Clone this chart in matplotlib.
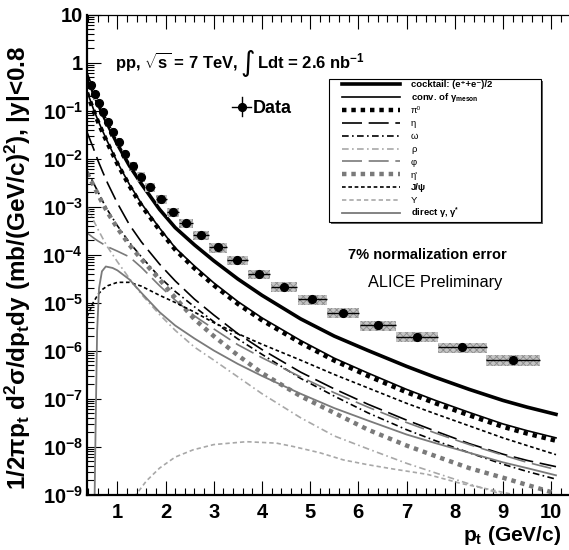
import numpy as np
import matplotlib
matplotlib.use("Agg")
import matplotlib.pyplot as plt
from matplotlib.patches import Rectangle
from matplotlib.lines import Line2D
from matplotlib.ticker import MultipleLocator, FixedLocator, FuncFormatter, NullFormatter

plt.rcParams["font.family"] = ["Liberation Sans", "DejaVu Sans"]
plt.rcParams["font.weight"] = "bold"
plt.rcParams["mathtext.fontset"] = "custom"
plt.rcParams["mathtext.rm"] = "Liberation Sans:bold"
plt.rcParams["mathtext.bf"] = "Liberation Sans:bold"
plt.rcParams["mathtext.it"] = "Liberation Sans:bold:italic"
plt.rcParams["mathtext.sf"] = "Liberation Sans"
plt.rcParams["mathtext.default"] = "rm"
plt.rcParams["hatch.linewidth"] = 0.6

# measured spectrum (GeV/c, mb/(GeV/c)^2)
data_pt = [0.45, 0.53, 0.61, 0.70, 0.80, 0.91, 1.03, 1.16, 1.32, 1.49, 1.68, 1.91, 2.15,
           2.42, 2.74, 3.09, 3.49, 3.94, 4.46, 5.04, 5.68, 6.41, 7.22, 8.16, 9.21]
data_dpt = [0.035, 0.04, 0.04, 0.045, 0.05, 0.055, 0.06, 0.07, 0.08, 0.09, 0.10, 0.115, 0.13,
            0.15, 0.165, 0.185, 0.21, 0.235, 0.27, 0.30, 0.34, 0.38, 0.43, 0.50, 0.56]
data_y = [0.34, 0.217, 0.143, 0.093, 0.058, 0.036, 0.022, 0.0124, 0.0070, 0.0042, 0.00255,
          1.43e-3, 7.6e-4, 4.5e-4, 2.55e-4, 1.41e-4, 7.7e-5, 3.9e-5, 2.14e-5, 1.16e-5,
          6.1e-6, 3.4e-6, 1.94e-6, 1.17e-6, 6.3e-7]
data_sys = [0.22, 0.22, 0.22, 0.22, 0.22, 0.22, 0.22, 0.22, 0.22, 0.22, 0.22, 0.22, 0.22,
            0.22, 0.22, 0.22, 0.22, 0.22, 0.22, 0.23, 0.23, 0.24, 0.24, 0.25, 0.25]

# cocktail components, log10 of the yield on a common pt grid
pt_grid = [0.37, 0.5, 0.6, 0.7, 0.8, 1.0, 1.25, 1.5, 1.875, 2.2, 2.6, 3.0, 3.5, 4.0,
           4.8, 5.5, 6.2, 7.0, 7.6, 8.3, 9.0, 9.5, 10.1]
cocktail_log = [-0.27, -0.62, -0.86, -1.08, -1.29, -1.70, -2.15, -2.53, -3.06, -3.44, -3.80,
                -4.13, -4.51, -4.85, -5.34, -5.70, -6.00, -6.33, -6.56, -6.81, -7.04, -7.18, -7.33]
conv_log = [-0.60, -0.96, -1.21, -1.44, -1.66, -2.08, -2.54, -2.94, -3.45, -3.86, -4.24,
            -4.59, -4.98, -5.32, -5.79, -6.16, -6.47, -6.81, -7.04, -7.29, -7.53, -7.67, -7.82]
pi0_log = [-0.63, -0.99, -1.24, -1.47, -1.69, -2.11, -2.57, -2.98, -3.49, -3.90, -4.29,
           -4.64, -5.03, -5.37, -5.84, -6.21, -6.53, -6.87, -7.10, -7.35, -7.59, -7.73, -7.88]
eta_log = [-1.45, -1.78, -2.05, -2.29, -2.52, -2.93, -3.38, -3.74, -4.20, -4.55, -4.93,
           -5.26, -5.65, -5.98, -6.45, -6.80, -7.12, -7.45, -7.68, -7.94, -8.16, -8.29, -8.42]
omega_log = [-2.25, -2.50, -2.70, -2.90, -3.08, -3.40, -3.75, -4.05, -4.47, -4.77, -5.09,
             -5.40, -5.76, -6.08, -6.58, -6.95, -7.30, -7.65, -7.88, -8.13, -8.37, -8.52, -8.68]
rho_log = [-3.00, -3.28, -3.48, -3.67, -3.85, -4.15, -4.50, -4.83, -5.25, -5.58, -5.93,
           -6.20, -6.55, -6.90, -7.40, -7.78, -8.05, -8.35, -8.55, -8.78, -9.00, -9.15, -9.30]
phi_log = [-3.55, -3.65, -3.72, -3.78, -3.84, -3.93, -4.05, -4.27, -4.65, -4.95, -5.28,
           -5.55, -5.88, -6.15, -6.55, -6.88, -7.18, -7.50, -7.72, -7.96, -8.18, -8.33, -8.48]
etap_log = [-2.30, -2.55, -2.75, -2.95, -3.13, -3.45, -3.80, -4.10, -4.52, -4.90, -5.35,
            -5.70, -6.10, -6.47, -6.95, -7.30, -7.65, -7.98, -8.20, -8.45, -8.65, -8.80, -8.98]
jpsi_log = [-5.30, -5.00, -4.83, -4.72, -4.65, -4.58, -4.58, -4.66, -4.85, -5.00, -5.20,
            -5.42, -5.65, -5.87, -6.20, -6.50, -6.78, -7.10, -7.32, -7.57, -7.82, -7.98, -8.17]

ups_pt = [1.30, 1.39, 1.6, 1.875, 2.2, 2.57, 3.0, 3.68, 4.3, 4.65, 5.2, 5.69, 6.2, 6.73,
          7.43, 8.13, 8.75, 9.3, 10.1]
ups_log = [-9.20, -9.00, -8.72, -8.45, -8.22, -8.07, -7.96, -7.90, -7.93, -8.00, -8.13,
           -8.28, -8.38, -8.47, -8.58, -8.77, -8.90, -9.02, -9.20]

dir_pt = [0.52, 0.55, 0.58, 0.62, 0.68, 0.76, 0.9, 1.0, 1.25, 1.5, 1.875, 2.2, 2.6, 3.0,
          3.5, 4.0, 4.8, 5.5, 6.2, 7.0, 7.6, 8.3, 9.0, 9.5, 10.1]
dir_log = [-9.60, -7.50, -5.60, -4.70, -4.35, -4.25, -4.28, -4.33, -4.52, -4.80, -5.20,
           -5.48, -5.75, -6.00, -6.28, -6.53, -6.90, -7.20, -7.46, -7.75, -7.93, -8.13,
           -8.33, -8.45, -8.60]

y_decades = [-9, -8, -7, -6, -5, -4, -3, -2, -1, 0, 1]

W, H = 569, 550
fig = plt.figure(figsize=(W / 100, H / 100), dpi=100)


def fx(px):
    return px / W


def fy(py):
    return 1 - py / H


ax = fig.add_axes([fx(87), fy(494.5), fx(569) - fx(87), fy(14.5) - fy(494.5)])
ax.set_yscale("log")
ax.set_xlim(0.37, 10.37)
ax.set_ylim(1e-9, 10)

grey = "#7a7a7a"
lgrey = "#a8a8a8"
sq = (0, (1.0, 1.1))
styles = [
    ("cocktail", pt_grid, cocktail_log, dict(color="black", lw=2.6, ls="-")),
    ("conv", pt_grid, conv_log, dict(color="black", lw=1.2, ls="-")),
    ("pi0", pt_grid, pi0_log, dict(color="black", lw=3.2, ls=sq)),
    ("eta", pt_grid, eta_log, dict(color="black", lw=1.2, ls=(0, (12, 4)))),
    ("omega", pt_grid, omega_log, dict(color="black", lw=1.2, ls=(0, (4, 2, 1, 2)))),
    ("rho", pt_grid, rho_log, dict(color=lgrey, lw=1.2, ls=(0, (4, 2, 1, 2)))),
    ("phi", pt_grid, phi_log, dict(color=grey, lw=1.2, ls=(0, (12, 4)))),
    ("etap", pt_grid, etap_log, dict(color=grey, lw=3.2, ls=sq)),
    ("jpsi", pt_grid, jpsi_log, dict(color="black", lw=1.2, ls=(0, (2.2, 1.6)))),
    ("ups", ups_pt, ups_log, dict(color=lgrey, lw=1.2, ls=(0, (2.6, 1.8)))),
    ("direct", dir_pt, dir_log, dict(color=grey, lw=1.3, ls="-")),
]
for name, xs, ylog, st in styles:
    ax.plot(xs, 10 ** np.array(ylog), zorder=2, **st)

# data with systematic boxes
for x, dx, y, s in zip(data_pt, data_dpt, data_y, data_sys):
    ax.add_patch(Rectangle((x - dx, y * (1 - s)), 2 * dx, 2 * s * y, facecolor="#c4c4c4",
                           edgecolor="#8a8a8a", hatch="xxxxx", lw=0, zorder=3))
ax.errorbar(data_pt, data_y, xerr=data_dpt, fmt="o", color="black", ms=5.6, elinewidth=1.0,
            capsize=0, zorder=4)

# axes style
for side in ("left", "bottom"):
    ax.spines[side].set_linewidth(1.6)
ax.spines["top"].set_linewidth(0.9)
ax.spines["right"].set_visible(False)
ax.xaxis.set_major_locator(MultipleLocator(1))
ax.xaxis.set_minor_locator(MultipleLocator(0.2))
ax.yaxis.set_major_locator(FixedLocator([10.0 ** e for e in y_decades]))
ax.yaxis.set_minor_locator(FixedLocator([m * 10.0 ** e for e in y_decades[:-1]
                                         for m in range(2, 10)]))
ax.yaxis.set_minor_formatter(NullFormatter())


def yfmt(v, pos):
    e = int(round(np.log10(v)))
    if e == 0:
        return "1"
    if e == 1:
        return "10"
    return r"$10^{%d}$" % e


ax.yaxis.set_major_formatter(FuncFormatter(yfmt))
ax.tick_params(axis="both", which="major", direction="in", length=10, width=0.8,
               top=True, right=False, labelsize=14.5)
ax.tick_params(axis="both", which="minor", direction="in", length=5, width=0.8,
               top=True, right=False)
ax.tick_params(axis="x", which="major", pad=6)
ax.tick_params(axis="y", which="major", pad=3)

fig.text(fx(18), fy(268), r"1/2$\pi$p$_{t}$ d$^{2}\sigma$/dp$_{t}$dy (mb/(GeV/c)$^{2}$), |y|<0.8",
         rotation=90, ha="center", va="center", fontsize=17.5)
fig.text(fx(463), fy(541), r"p$_{t}$ (GeV/c)", ha="left", va="baseline", fontsize=15)

# header
fig.text(fx(115), fy(68), r"pp, $\sqrt{s}$ = 7 TeV,", ha="left", va="baseline", fontsize=12)
fig.text(fx(240), fy(71), "\u222b", ha="left", va="baseline", fontsize=20,
         family=["DejaVu Sans"], fontweight="normal")
fig.text(fx(257), fy(68), r"Ldt = 2.6 nb$^{-1}$", ha="left", va="baseline", fontsize=12)

fig.text(fx(348), fy(259), "7% normalization error", ha="left", va="baseline", fontsize=10.5)
fig.text(fx(368), fy(287.5), "ALICE Preliminary", ha="left", va="baseline", fontsize=11.8,
         fontweight="normal")

# data legend entry
fig.add_artist(Line2D([fx(232), fx(251)], [fy(106.7), fy(106.7)], color="black", lw=1.0))
fig.add_artist(Line2D([fx(241.7), fx(241.7)], [fy(97), fy(116)], color="black", lw=1.0))
fig.add_artist(Line2D([fx(241.7)], [fy(106.7)], marker="o", ms=5.6, color="black"))
fig.text(fx(253), fy(113), "Data", ha="left", va="baseline", fontsize=13)

# cocktail legend box
fig.add_artist(Rectangle((fx(331), fy(224)), fx(541) - fx(329), fy(79) - fy(222),
                         facecolor="#606060", edgecolor="none"))
fig.add_artist(Rectangle((fx(329), fy(222)), fx(541) - fx(329), fy(79) - fy(222),
                         facecolor="white", edgecolor="black", lw=0.8))
labels = [
    ("cocktail: (e\u207a+e\u207b)/2", "bold"),
    (r"conv. of $\mathsf{\gamma}_{meson}$", "bold"),
    ("\u03c0\u2070", "normal"),
    ("\u03b7", "normal"),
    ("\u03c9", "normal"),
    ("\u03c1", "normal"),
    ("\u03c6", "normal"),
    ("\u03b7'", "normal"),
    ("J/\u03c8", "bold"),
    ("\u03a5", "normal"),
    (r"direct $\mathsf{\gamma,\gamma^{*}}$", "bold"),
]
for i, ((name, xs, ylog, st), (lab, wt)) in enumerate(zip(styles, labels)):
    py = 84 + 12.9 * i
    fig.add_artist(Line2D([fx(342), fx(400)], [fy(py), fy(py)], **st))
    fig.text(fx(411), fy(py + 3.2), lab, ha="left", va="baseline", fontsize=6.8,
             fontweight=wt)

fig.savefig("out.png", dpi=100)
